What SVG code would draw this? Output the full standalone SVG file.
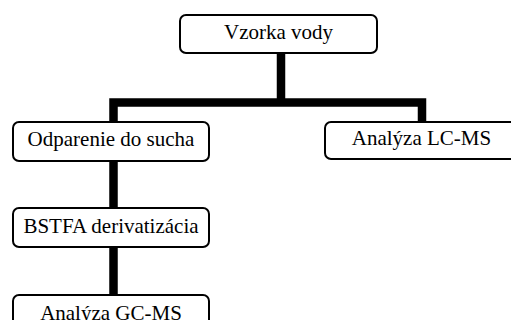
<svg xmlns="http://www.w3.org/2000/svg" width="511" height="320" viewBox="0 0 511 320">
<style>
.box{fill:#fff;stroke:#000;stroke-width:2}
.lbl{font-family:"Liberation Serif","Times New Roman",serif;font-size:21px;fill:#000;text-anchor:middle}
.con{fill:none;stroke:#000;stroke-width:8.5;stroke-linejoin:miter;stroke-linecap:butt}
</style>
<rect width="511" height="320" fill="#fff"/>
<g id="connectors">
<path class="con" d="M281,53 V102.5"/>
<path class="con" d="M113.5,122 V102.5 H422 V122"/>
<path class="con" d="M113.5,161 V208"/>
<path class="con" d="M113.5,247 V295"/>
</g>
<g id="vzorka"><rect class="box" x="180" y="15" width="197" height="38" rx="6"/><text class="lbl" x="278.5" y="39">Vzorka vody</text></g>
<g id="odparenie"><rect class="box" x="13" y="122" width="196" height="39" rx="6"/><text class="lbl" x="111" y="146">Odparenie do sucha</text></g>
<g id="lcms"><rect class="box" x="325" y="122" width="194" height="37" rx="6"/><text class="lbl" x="421.5" y="144.5">Analýza LC-MS</text></g>
<g id="bstfa"><rect class="box" x="13" y="208" width="196" height="39" rx="6"/><text class="lbl" x="111" y="232.5">BSTFA derivatizácia</text></g>
<g id="gcms"><rect class="box" x="13" y="295" width="196" height="39" rx="6"/><text class="lbl" x="111" y="319.5">Analýza GC-MS</text></g>
</svg>
